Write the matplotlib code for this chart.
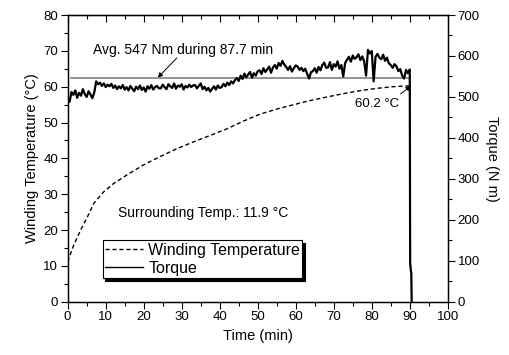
import numpy as np
import matplotlib
matplotlib.use("Agg")
import matplotlib.pyplot as plt
from matplotlib.ticker import MultipleLocator

plt.rcParams['font.family'] = ['Liberation Sans', 'DejaVu Sans']

# winding temperature (deg C) vs time (min)
temp_time = [0, 1.6, 3.4, 5.2, 6.9, 9.5, 12.1, 15.6, 20, 24.3, 28.5, 33.1, 37.5,
             41.8, 46, 50.5, 55.8, 61, 64.5, 69, 73.2, 77.5, 81.9, 85.5, 88.9, 90.3]
temp_vals = [11.2, 15.8, 20.0, 23.7, 27.5, 30.7, 33.0, 35.4, 38.2, 40.5, 42.6, 44.6, 46.4,
             48.2, 50.3, 52.3, 54.0, 55.4, 56.3, 57.3, 58.2, 59.0, 59.6, 60.0, 60.2, 60.2]

# torque (N m), sampled every 0.5 min from 0.5 to 90 min
torque_vals = [
    488, 512, 505, 516, 498, 510, 503, 519, 507, 500, 514, 506, 497, 511,
    538, 531, 535, 527, 533, 524, 530, 526, 532, 522, 528, 519, 526, 521, 529, 518,
    524, 516, 527, 520, 514, 525, 519, 528, 517, 523, 513, 526, 520, 529, 518, 524, 527, 521,
    521, 530, 524, 519, 531, 526, 522, 533, 520, 528, 525, 531, 518, 527, 523, 530, 524, 528,
    529, 521, 527, 533, 519, 525, 516, 522, 513, 520, 526, 518, 528, 522,
    524, 532, 526, 535, 529, 538, 533, 541,
    546, 539, 552, 544, 557, 548, 555, 561, 547, 558, 552, 563,
    565, 556, 570, 561, 567, 574, 559, 572, 578, 569,
    583, 576, 588, 579, 573, 566, 575, 562, 570, 577,
    574, 566, 571, 563, 569, 556, 545, 560,
    563, 570, 559, 573, 565, 578, 584, 571,
    572, 585, 566, 580, 574, 587, 569, 578, 550, 583,
    591, 598, 586, 601, 593, 597, 604, 590, 599, 587,
    552, 615, 606, 612, 538, 598, 605, 596,
    592, 603, 588, 596, 582, 578, 571, 580,
    575, 563, 568, 552, 545, 566, 558, 567,
]
torque_start_t = [0.0, 0.05]
torque_start = [0, 490]
torque_end_t = [90.1, 90.3, 90.4, 90.5]
torque_end = [95, 75, 70, 0]

avg_torque = 547
avg_span = [0.8, 90]

sample_t = 0.5 + 0.5 * np.arange(len(torque_vals))
torque_time = np.concatenate([torque_start_t, sample_t, torque_end_t])
torque = np.concatenate([torque_start, torque_vals, torque_end])

fig = plt.figure(figsize=(5.1, 3.55), dpi=100)
ax = fig.add_axes([0.1327, 0.150, 0.7453, 0.8077])
ax2 = ax.twinx()

ax.plot(temp_time, temp_vals, color='black', lw=1.0, linestyle=(0, (3, 2)),
        label='Winding Temperature')
ax2.plot(avg_span, [avg_torque, avg_torque], color='#8a8a8a', lw=1.3)
ax2.plot(torque_time, torque, color='black', lw=1.6)

# legend built from proxy lines on ax
ax.plot([], [], color='black', lw=1.0, label='Torque')
leg = ax.legend(loc='lower left', bbox_to_anchor=(0.092, 0.082), borderaxespad=0,
                fontsize=11.5, frameon=True, fancybox=False, edgecolor='black',
                handlelength=2.4, handletextpad=0.3, borderpad=0.15, labelspacing=0.2,
                shadow={'color': 'black', 'alpha': 1})
leg.get_frame().set_linewidth(0.8)
leg.set_zorder(10)

ax.set_xlim(0, 100)
ax.set_ylim(0, 80)
ax2.set_ylim(0, 700)

ax.xaxis.set_major_locator(MultipleLocator(10))
ax.xaxis.set_minor_locator(MultipleLocator(5))
ax.yaxis.set_major_locator(MultipleLocator(10))
ax.yaxis.set_minor_locator(MultipleLocator(5))
ax2.yaxis.set_major_locator(MultipleLocator(100))
ax2.yaxis.set_minor_locator(MultipleLocator(50))

ax.tick_params(which='major', direction='out', length=5, width=0.8, labelsize=9.5, pad=2)
ax.tick_params(which='minor', direction='out', length=3, width=0.8)
ax2.tick_params(which='major', direction='out', length=5, width=0.8, labelsize=9.5, pad=2)
ax2.tick_params(which='minor', direction='out', length=3, width=0.8)

top = ax.secondary_xaxis('top')
top.xaxis.set_major_locator(MultipleLocator(10))
top.xaxis.set_minor_locator(MultipleLocator(5))
top.tick_params(which='major', direction='in', length=5, width=0.8, labeltop=False)
top.tick_params(which='minor', direction='in', length=3, width=0.8)

for a in (ax, ax2):
    for s in a.spines.values():
        s.set_linewidth(0.9)

ax.set_xlabel('Time (min)', fontsize=10.5, labelpad=4)
ax.set_ylabel('Winding Temperature (°C)', fontsize=10.5, labelpad=3)
ax2.set_ylabel('Torque (N m)', fontsize=10.5, rotation=270, labelpad=14)

ax.text(30.3, 70.2, 'Avg. 547 Nm during 87.7 min', fontsize=10, ha='center', va='center')
ax.annotate('', xy=(23.7, avg_torque * 80 / 700), xytext=(28.7, 68.0),
            arrowprops=dict(arrowstyle='-|>', color='black', lw=0.7, mutation_scale=7,
                            shrinkA=0, shrinkB=0))
ax.text(81.3, 55.3, '60.2 °C', fontsize=9.5, ha='center', va='center')
ax.annotate('', xy=(90.3, 60.2), xytext=(87.6, 58.0),
            arrowprops=dict(arrowstyle='-|>', color='black', lw=0.7, mutation_scale=7,
                            shrinkA=0, shrinkB=0))
ax.text(13.2, 24.7, 'Surrounding Temp.: 11.9 °C', fontsize=10, ha='left', va='center')

fig.savefig('out.png', dpi=100)
